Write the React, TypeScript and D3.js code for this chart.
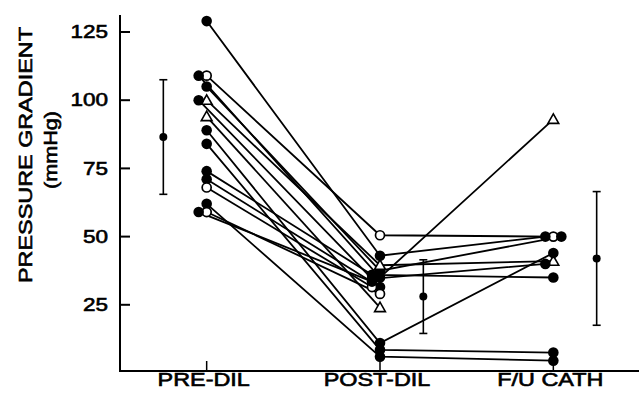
import React from 'react';
import * as d3 from 'd3';

type Sym = 'f' | 'o' | 't';

// categories on the x axis
const categories = ['PRE-DIL', 'POST-DIL', 'F/U CATH'];

// one entry per patient (same order in every array)
const preDil = [109, 129, 109, 105, 100, 100, 94, 89, 84, 74, 71, 68, 62, 59, 59];
const postDil = [50.5, 43, 35, 37.5, 39.5, 34.5, 24, 11, 8.5, 36, 31.5, 31.5, 6, 29, 33.5];
const fuCath: (number | null)[] = [50, 50, 93, 50, 41, 40, null, 44, 7.5, 35, null, null, 4.5, null, null];

// marker kind: f = filled circle, o = open circle, t = open triangle
const preSym: Sym[] = ['o', 'f', 'f', 'f', 't', 'f', 't', 'f', 'f', 'f', 'f', 'o', 'f', 'o', 'f'];
const postSym: Sym[] = ['o', 'f', 'f', 'f', 't', 'f', 't', 'f', 'f', 'f', 'f', 'o', 'f', 'o', 'f'];
const fuSym: Sym[] = ['o', 'f', 't', 'f', 't', 'f', 'f', 'f', 'f', 'f', 'f', 'f', 'f', 'f', 'f'];

// group mean and SD shown beside each column
const groupMean = [86.5, 28, 42];
const groupSd = [21, 13.5, 24.5];

const yTicks = [25, 50, 75, 100, 125];

const W = 639;
const H = 396;
const FONT = '"Liberation Sans", Arial, Helvetica, sans-serif';

const x = d3.scalePoint<string>().domain(categories).range([120, 640]).padding(0.5);
const y = d3.scaleLinear().domain([0, 125]).range([373, 32]);
const step = x.step();

// spread overlapping markers sideways
function offsets(vals: (number | null)[]): number[] {
  const shift = [0, -8, 8, -16];
  return vals.map((v, i) => {
    if (v == null) return 0;
    let k = 0;
    for (let j = 0; j < i; j++) {
      const w = vals[j];
      if (w != null && Math.abs(w - v) < 1.2) k++;
    }
    return shift[Math.min(k, 3)];
  });
}

const Marker: React.FC<{ cx: number; cy: number; sym: Sym }> = ({ cx, cy, sym }) => {
  if (sym === 'f') return <circle cx={cx} cy={cy} r={5.3} fill="#000" />;
  if (sym === 'o')
    return <circle cx={cx} cy={cy} r={4.5} fill="#fff" stroke="#000" strokeWidth={1.7} />;
  const s = 5.4;
  const d = `M${cx},${cy - s}L${cx + s},${cy + s * 0.75}L${cx - s},${cy + s * 0.75}Z`;
  return <path d={d} fill="#fff" stroke="#000" strokeWidth={1.6} strokeLinejoin="miter" />;
};

const App: React.FC = () => {
  const cols = [preDil, postDil, fuCath];
  const syms = [preSym, postSym, fuSym];
  const offs = cols.map((c) => offsets(c));

  const pts = preDil.map((_, i) =>
    cols
      .map((c, k) => {
        const v = c[i];
        if (v == null) return null;
        return { x: (x(categories[k]) as number) + offs[k][i], y: y(v), sym: syms[k][i] };
      })
      .filter((p): p is { x: number; y: number; sym: Sym } => p !== null)
  );

  const line = d3
    .line<{ x: number; y: number }>()
    .x((d) => d.x)
    .y((d) => d.y);

  const barX = categories.map((c, k) => (x(c) as number) + (k === 0 ? -step * 0.25 : step * 0.25));

  const textStyle = {
    fontFamily: FONT,
    fontWeight: 400,
    fontSize: 18,
    fill: '#000',
    stroke: '#000',
    strokeWidth: 0.6,
  } as const;

  return (
    <svg
      width={W}
      height={H}
      style={{ position: 'absolute', left: 0, top: 0, background: '#fff' }}
    >
      {/* axes */}
      <line x1={120} x2={120} y1={15} y2={372} stroke="#000" strokeWidth={2} />
      <line x1={119} x2={639} y1={371} y2={371} stroke="#000" strokeWidth={2} />
      {yTicks.map((t) => (
        <g key={t}>
          <line x1={120} x2={130} y1={y(t)} y2={y(t)} stroke="#000" strokeWidth={2} />
          <text
            transform={`translate(108,${y(t)}) scale(1.25,1)`}
            textAnchor="end"
            dominantBaseline="central"
            style={textStyle}
          >
            {t}
          </text>
        </g>
      ))}
      {categories.map((c) => (
        <g key={c}>
          <line x1={x(c)} x2={x(c)} y1={371} y2={361} stroke="#000" strokeWidth={1.5} />
          <text
            transform={`translate(${(x(c) as number) - 3},386) scale(1.3,1)`}
            textAnchor="middle"
            style={textStyle}
          >
            {c}
          </text>
        </g>
      ))}
      <text
        transform="translate(26,155) rotate(-90) scale(1.3,1)"
        textAnchor="middle"
        dominantBaseline="central"
        style={textStyle}
      >
        PRESSURE GRADIENT
      </text>
      <text
        transform="translate(51,150) rotate(-90) scale(1.2,1)"
        textAnchor="middle"
        dominantBaseline="central"
        style={textStyle}
      >
        (mmHg)
      </text>

      {/* patient lines */}
      {pts.map((p, i) => (
        <path key={i} d={line(p) || ''} fill="none" stroke="#000" strokeWidth={1.8} />
      ))}

      {/* mean +/- SD */}
      {groupMean.map((m, k) => {
        const bx = barX[k];
        const top = y(m + groupSd[k]);
        const bot = y(m - groupSd[k]);
        return (
          <g key={k}>
            <line x1={bx} x2={bx} y1={top} y2={bot} stroke="#000" strokeWidth={1.6} />
            <line x1={bx - 4} x2={bx + 4} y1={top} y2={top} stroke="#000" strokeWidth={1.6} />
            <line x1={bx - 4} x2={bx + 4} y1={bot} y2={bot} stroke="#000" strokeWidth={1.6} />
            <circle cx={bx} cy={y(m)} r={4} fill="#000" />
          </g>
        );
      })}

      {/* markers */}
      {pts.map((p, i) => (
        <g key={i}>
          {p.map((d, k) => (
            <Marker key={k} cx={d.x} cy={d.y} sym={d.sym} />
          ))}
        </g>
      ))}
    </svg>
  );
};

export default App;
